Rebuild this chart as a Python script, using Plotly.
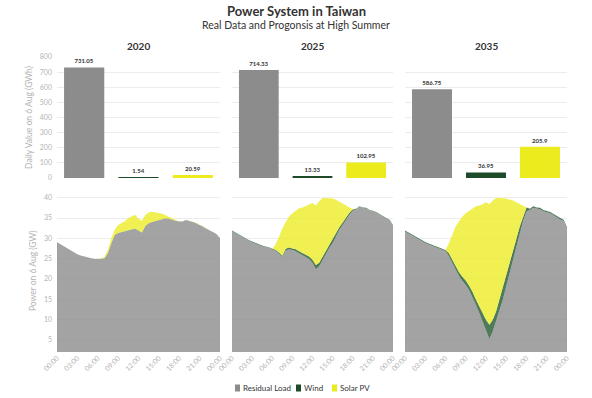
import plotly.graph_objects as go

# ---------------- data ----------------
years = ["2020", "2025", "2035"]
categories = ["Residual Load", "Wind", "Solar PV"]
daily_2020 = [731.05, 1.54, 20.59]
daily_2025 = [714.33, 13.33, 102.95]
daily_2035 = [586.75, 36.95, 205.9]

hours = [h / 2 for h in range(49)]  # half-hourly, 00:00 .. 24:00
tick_hours = [0, 3, 6, 9, 12, 15, 18, 21, 24]
tick_labels = ["00:00", "03:00", "06:00", "09:00", "12:00", "15:00", "18:00", "21:00", "00:00"]
bar_ticks = [0, 100, 200, 300, 400, 500, 600, 700, 800]
power_ticks = [5, 10, 15, 20, 25, 30, 35, 40]

residual_2020 = [28.95, 28.45, 27.95, 27.35, 26.85, 26.45, 26.05, 25.75, 25.45, 25.25, 25.05, 24.85,
                 24.85, 24.95, 25.05, 26.35, 28.75, 30.85, 31.25, 31.45, 31.65, 31.85, 32.05, 32.35,
                 31.85, 31.35, 32.95, 33.65, 33.95, 34.15, 34.35, 34.65, 34.85, 34.75, 34.45, 34.25,
                 34.05, 34.05, 34.45, 34.25, 33.95, 33.65, 33.25, 32.85, 32.35, 31.85, 31.45, 30.95, 30.05]
wind_2020 = [0.05, 0.05, 0.04, 0.04, 0.04, 0.03, 0.03, 0.03, 0.03, 0.02, 0.02, 0.02,
             0.02, 0.02, 0.03, 0.03, 0.03, 0.04, 0.04, 0.05, 0.05, 0.06, 0.06, 0.06,
             0.07, 0.07, 0.08, 0.08, 0.09, 0.09, 0.10, 0.10, 0.10, 0.09, 0.08, 0.08,
             0.07, 0.07, 0.06, 0.06, 0.06, 0.05, 0.05, 0.05, 0.05, 0.05, 0.05, 0.05, 0.05]
solar_2020 = [0, 0, 0, 0, 0, 0, 0, 0, 0, 0, 0, 0,
              0, 0.05, 0.4, 0.8, 1.3, 1.2, 2.0, 2.3, 2.5, 3.1, 3.3, 3.4,
              2.9, 2.9, 2.7, 2.6, 2.5, 2.2, 1.8, 1.3, 0.7, 0.4, 0.2, 0.1,
              0, 0, 0, 0, 0, 0, 0, 0, 0, 0, 0, 0, 0]

residual_2025 = [31.75, 31.25, 30.75, 30.35, 29.95, 29.45, 29.05, 28.65, 28.25, 28.05, 27.85, 27.65,
                 27.25, 26.95, 26.2, 25.4, 27.0, 27.3, 27.1, 26.8, 26.3, 25.9, 25.5, 24.9,
                 23.9, 22.4, 23.1, 24.7, 26.0, 27.6, 28.8, 30.5, 32.1, 33.3, 34.6, 35.8,
                 36.8, 37.15, 37.75, 37.45, 37.35, 36.85, 36.65, 36.35, 35.85, 35.25, 34.85, 34.45, 33.05]
wind_2025 = [0.15, 0.15, 0.15, 0.15, 0.15, 0.15, 0.15, 0.15, 0.15, 0.15, 0.15, 0.15,
             0.15, 0.2, 0.3, 0.3, 0.4, 0.4, 0.4, 0.5, 0.5, 0.5, 0.6, 0.6,
             0.8, 1.0, 0.9, 0.8, 0.8, 0.7, 0.9, 0.7, 0.6, 0.6, 0.6, 0.5,
             0.3, 0.15, 0.15, 0.15, 0.15, 0.15, 0.15, 0.15, 0.15, 0.15, 0.15, 0.15, 0.15]
solar_2025 = [0, 0, 0, 0, 0, 0, 0, 0, 0, 0, 0, 0,
              0, 1.4, 3.8, 6.7, 6.6, 7.6, 8.7, 9.6, 10.6, 11.2, 11.8, 12.8,
              14.0, 14.7, 15.1, 14.4, 13.1, 11.6, 10.1, 8.3, 6.4, 4.8, 2.9, 1.3,
              0.1, 0, 0, 0, 0, 0, 0, 0, 0, 0, 0, 0, 0]

residual_2035 = [31.65, 31.15, 30.65, 30.15, 29.65, 29.25, 28.85, 28.45, 28.15, 27.85, 27.55, 27.25,
                 26.85, 25.6, 23.9, 22.3, 20.7, 19.5, 18.5, 17.2, 15.6, 13.6, 11.6, 9.5,
                 7.3, 5.2, 7.0, 9.5, 12.0, 14.9, 18.2, 21.4, 24.7, 28.4, 31.7, 34.3,
                 36.6, 36.95, 37.55, 37.25, 37.15, 36.65, 36.45, 36.15, 35.65, 35.05, 34.65, 34.25, 32.35]
wind_2035 = [0.25, 0.25, 0.25, 0.25, 0.25, 0.25, 0.25, 0.25, 0.25, 0.25, 0.25, 0.25,
             0.25, 0.7, 0.8, 0.9, 0.9, 1.0, 1.1, 1.1, 1.2, 1.3, 1.6, 2.1,
             2.6, 3.5, 2.9, 2.5, 2.9, 2.9, 2.4, 2.3, 1.9, 1.5, 1.2, 1.1,
             1.0, 0.35, 0.35, 0.35, 0.35, 0.35, 0.35, 0.35, 0.35, 0.35, 0.35, 0.35, 0.35]
solar_2035 = [0, 0, 0, 0, 0, 0, 0, 0, 0, 0, 0, 0,
              0, 2.5, 6.2, 9.7, 12.6, 14.9, 16.6, 18.5, 20.7, 23.0, 24.9, 26.8,
              29.0, 29.7, 29.4, 27.9, 25.0, 22.1, 19.2, 15.8, 12.7, 9.0, 5.5, 2.7,
              0.0, 0, 0, 0, 0, 0, 0, 0, 0, 0, 0, 0, 0]

# ---------------- styling ----------------
W, H = 592, 398
FONT = "Lato"
bar_colors = ["#8c8c8c", "#1d4a27", "#ebeb1e"]
area_colors = ["rgba(140,140,140,0.8)", "rgba(35,90,50,0.8)", "rgba(236,236,40,0.8)"]
tick_color = "#b4b4b4"
grid_color = "#ececec"

def px_x(a, b):
    return [a / W, b / W]

def px_y(top, bottom):
    return [1 - bottom / H, 1 - top / H]

col_x = [(57, 220), (232, 393), (405, 567)]
top_y = (57, 178)
bot_y = (189.6, 351.9)

daily = [daily_2020, daily_2025, daily_2035]
series = [
    (residual_2020, wind_2020, solar_2020),
    (residual_2025, wind_2025, solar_2025),
    (residual_2035, wind_2035, solar_2035),
]

fig = go.Figure()
layout = dict(
    width=W, height=H,
    margin=dict(l=0, r=0, t=0, b=0, autoexpand=False),
    paper_bgcolor="white", plot_bgcolor="white",
    font=dict(family=FONT, color="#333333"),
    showlegend=False,
    barmode="group",
)

annotations = []
shapes = []
for i, yr in enumerate(years):
    n_top = i + 1
    n_bot = i + 4
    xa_t = "x" if n_top == 1 else f"x{n_top}"
    ya_t = "y" if n_top == 1 else f"y{n_top}"
    xa_b, ya_b = f"x{n_bot}", f"y{n_bot}"
    # bars
    for k, cat in enumerate(categories):
        fig.add_trace(go.Bar(
            x=[cat], y=[daily[i][k]], text=[str(daily[i][k])],
            textposition="outside", cliponaxis=False,
            textfont=dict(size=6, color="#333333", family=FONT, weight="bold"),
            marker=dict(color=bar_colors[k], line=dict(width=0)),
            width=0.74, name=cat, legendgroup=cat,
            xaxis=xa_t, yaxis=ya_t, offsetgroup="a",
        ))
    # stacked areas
    for k, cat in enumerate(categories):
        fig.add_trace(go.Scatter(
            x=hours, y=series[i][k], mode="lines", stackgroup=f"s{yr}",
            line=dict(width=0, color=area_colors[k]), fillcolor=area_colors[k],
            name=cat, legendgroup=cat,
            xaxis=xa_b, yaxis=ya_b,
        ))

    key_xt = "xaxis" if n_top == 1 else f"xaxis{n_top}"
    key_yt = "yaxis" if n_top == 1 else f"yaxis{n_top}"
    layout[key_xt] = dict(domain=px_x(*col_x[i]), anchor=ya_t, showticklabels=False,
                          showgrid=False, zeroline=False, showline=False, ticks="",
                          range=[-0.5, 2.5], type="category", fixedrange=True, automargin=False)
    layout[key_yt] = dict(domain=px_y(*top_y), anchor=xa_t, range=[0, 800],
                          tickvals=bar_ticks, showticklabels=(i == 0),
                          tickfont=dict(size=7, color=tick_color, family=FONT),
                          showgrid=True, gridcolor=grid_color, gridwidth=1,
                          zeroline=False, showline=False, ticks="", ticklabelstandoff=4,
                          automargin=False)
    layout[f"xaxis{n_bot}"] = dict(domain=px_x(*col_x[i]), anchor=ya_b, range=[0, 24],
                                   tickvals=tick_hours, ticktext=tick_labels, tickangle=-45,
                                   tickfont=dict(size=7, color=tick_color, family=FONT),
                                   showgrid=False, zeroline=False, showline=False, ticks="",
                                   automargin=False)
    layout[f"yaxis{n_bot}"] = dict(domain=px_y(*bot_y), anchor=xa_b, range=[2, 42],
                                   tickvals=power_ticks, showticklabels=(i == 0),
                                   tickfont=dict(size=7, color=tick_color, family=FONT),
                                   showgrid=True, gridcolor=grid_color, gridwidth=1,
                                   zeroline=False, showline=False, ticks="", ticklabelstandoff=4,
                                   automargin=False)
    annotations.append(dict(text=f"<b>{yr}</b>", x=sum(col_x[i]) / 2 / W, y=1 - 46 / H,
                            xanchor="center", yanchor="middle",
                            xref="paper", yref="paper", showarrow=False,
                            font=dict(size=10, color="#333333", family=FONT)))

layout["yaxis"]["title"] = dict(text="Daily Value on 6 Aug (GWh)",
                                font=dict(size=8.5, color=tick_color, family=FONT), standoff=5)
layout["yaxis4"]["title"] = dict(text="Power on 6 Aug (GW)",
                                 font=dict(size=8.5, color=tick_color, family=FONT), standoff=5)

annotations.append(dict(text="<b>Power System in Taiwan</b>", x=0.5, y=1 - 11 / H,
                        xanchor="center", yanchor="middle",
                        xref="paper", yref="paper", showarrow=False,
                        font=dict(size=13, color="#333333", family=FONT)))
annotations.append(dict(text="Real Data and Progonsis at High Summer", x=0.5, y=1 - 25.5 / H,
                        xanchor="center", yanchor="middle",
                        xref="paper", yref="paper", showarrow=False,
                        font=dict(size=10.5, color="#333333", family=FONT)))

# custom compact legend (square marker + label)
legend_x = [235, 296, 332]
for k, cat in enumerate(categories):
    x0 = legend_x[k]
    shapes.append(dict(type="rect", xref="paper", yref="paper",
                       x0=x0 / W, x1=(x0 + 5) / W, y0=1 - 391.5 / H, y1=1 - 384.5 / H,
                       fillcolor=bar_colors[k], line=dict(width=0)))
    annotations.append(dict(text=cat, x=(x0 + 6) / W, y=1 - 388 / H,
                            xanchor="left", yanchor="middle",
                            xref="paper", yref="paper", showarrow=False,
                            font=dict(size=8, color="#333333", family=FONT)))

layout["annotations"] = annotations
layout["shapes"] = shapes

fig.update_layout(**layout)
fig.write_html("out.html", config={"displayModeBar": False},
               post_script="document.body.style.margin='0';")
